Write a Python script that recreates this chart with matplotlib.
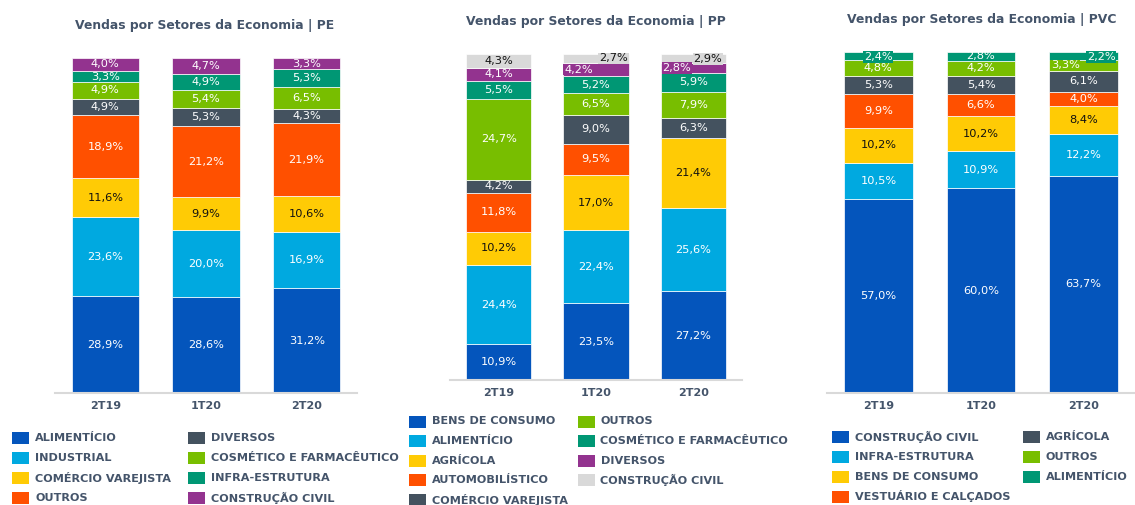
import matplotlib.pyplot as plt
from matplotlib.patches import Rectangle

# dados (% das vendas por setor)
periodos = ['2T19', '1T20', '2T20']

pe_setores = ['ALIMENTÍCIO', 'INDUSTRIAL', 'COMÉRCIO VAREJISTA', 'OUTROS',
              'DIVERSOS', 'COSMÉTICO E FARMACÊUTICO', 'INFRA-ESTRUTURA', 'CONSTRUÇÃO CIVIL']
pe_valores = [
    [28.9, 28.6, 31.2],
    [23.6, 20.0, 16.9],
    [11.6, 9.9, 10.6],
    [18.9, 21.2, 21.9],
    [4.9, 5.3, 4.3],
    [4.9, 5.4, 6.5],
    [3.3, 4.9, 5.3],
    [4.0, 4.7, 3.3],
]

pp_setores = ['BENS DE CONSUMO', 'ALIMENTÍCIO', 'AGRÍCOLA', 'AUTOMOBILÍSTICO', 'COMÉRCIO VAREJISTA',
              'OUTROS', 'COSMÉTICO E FARMACÊUTICO', 'DIVERSOS', 'CONSTRUÇÃO CIVIL']
pp_valores = [
    [10.9, 23.5, 27.2],
    [24.4, 22.4, 25.6],
    [10.2, 17.0, 21.4],
    [11.8, 9.5, 0.0],
    [4.2, 9.0, 6.3],
    [24.7, 6.5, 7.9],
    [5.5, 5.2, 5.9],
    [4.1, 4.2, 2.8],
    [4.3, 2.7, 2.9],
]

pvc_setores = ['CONSTRUÇÃO CIVIL', 'INFRA-ESTRUTURA', 'BENS DE CONSUMO', 'VESTUÁRIO E CALÇADOS',
               'AGRÍCOLA', 'OUTROS', 'ALIMENTÍCIO']
pvc_valores = [
    [57.0, 60.0, 63.7],
    [10.5, 10.9, 12.2],
    [10.2, 10.2, 8.4],
    [9.9, 6.6, 4.0],
    [5.3, 5.4, 6.1],
    [4.8, 4.2, 3.3],
    [2.4, 2.8, 2.2],
]

# cores
AZUL = '#0455BC'
CELESTE = '#00A9E0'
AMARELO = '#FFCB05'
LARANJA = '#FF5000'
CINZA_ESC = '#44525F'
VERDE = '#78BE00'
TURQUESA = '#009774'
ROXO = '#93338F'
CINZA_CLR = '#D9D9D9'
TEXTO = '#44546A'

pe_cores = [AZUL, CELESTE, AMARELO, LARANJA, CINZA_ESC, VERDE, TURQUESA, ROXO]
pp_cores = [AZUL, CELESTE, AMARELO, LARANJA, CINZA_ESC, VERDE, TURQUESA, ROXO, CINZA_CLR]
pvc_cores = [AZUL, CELESTE, AMARELO, LARANJA, CINZA_ESC, VERDE, TURQUESA]

# deslocamento dos rotulos pequenos: (setor, periodo) -> (dx em barras, dy em %)
pp_desloc = {(7, 1): (-0.18, 0), (8, 1): (0.18, 0), (7, 2): (-0.17, 0), (8, 2): (0.15, 0)}
pvc_desloc = {(6, 0): (0, -0.3), (5, 2): (-0.18, 0), (6, 2): (0.17, -0.3)}

W, H = 1135, 505
fig = plt.figure(figsize=(W / 100, H / 100), dpi=100)


def painel(rect, titulo, titulo_xy, setores, valores, cores, desloc, leg):
    x0, y0, x1, y1 = rect  # pixels
    ax = fig.add_axes([x0 / W, 1 - y1 / H, (x1 - x0) / W, (y1 - y0) / H])
    base = [0.0] * len(periodos)
    xs = list(range(len(periodos)))
    for i, (setor, vals) in enumerate(zip(setores, valores)):
        ax.bar(xs, vals, 0.67, bottom=base, color=cores[i], edgecolor='white', linewidth=0.5)
        for j, v in enumerate(vals):
            if v <= 0:
                continue
            cor_txt = '#111111' if cores[i] in (AMARELO, CINZA_CLR) else 'white'
            dx, dy = desloc.get((i, j), (0, 0))
            box = None
            if (i, j) in desloc:
                box = dict(facecolor=cores[i], edgecolor='none', pad=0.6)
            ax.text(j + dx, base[j] + v / 2 + dy, f'{v:.1f}%'.replace('.', ','),
                    ha='center', va='center', fontsize=8.2, color=cor_txt, bbox=box)
        base = [b + v for b, v in zip(base, vals)]
    ax.set_xlim(-0.5, len(periodos) - 0.5)
    ax.set_ylim(0, 100)
    ax.set_yticks([])
    ax.set_xticks(xs)
    ax.set_xticklabels(periodos, fontsize=8, fontweight='bold', color=TEXTO)
    ax.tick_params(axis='x', length=0, pad=6)
    for s in ['top', 'right', 'left']:
        ax.spines[s].set_visible(False)
    ax.spines['bottom'].set_color('#D9D9D9')
    ax.spines['bottom'].set_linewidth(1.5)
    fig.text(titulo_xy[0] / W, 1 - titulo_xy[1] / H, titulo, ha='center', va='center',
             fontsize=8.9, fontweight='bold', color=TEXTO)

    # legenda feita a mao
    lx, ly, lx2, dy, nlin = leg
    for k, setor in enumerate(setores):
        col, lin = divmod(k, nlin)
        xq = lx if col == 0 else lx2
        yc = ly + lin * dy
        fig.add_artist(Rectangle((xq / W, 1 - (yc + 6) / H), 17 / W, 12 / H,
                                 transform=fig.transFigure, facecolor=cores[k], edgecolor='none'))
        fig.text((xq + 23) / W, 1 - yc / H, setor, ha='left', va='center',
                 fontsize=8.1, fontweight='bold', color=TEXTO)


painel((55, 58, 357, 393), 'Vendas por Setores da Economia | PE', (205, 25),
       pe_setores, pe_valores, pe_cores, {}, (12, 438, 188, 20, 4))
painel((450, 54, 742, 380), 'Vendas por Setores da Economia | PP', (596, 22),
       pp_setores, pp_valores, pp_cores, pp_desloc, (409, 421.5, 577.5, 19.5, 5))
painel((827, 52, 1135, 393), 'Vendas por Setores da Economia | PVC', (982, 19),
       pvc_setores, pvc_valores, pvc_cores, pvc_desloc, (832, 436.5, 1022.5, 20, 4))

fig.savefig('out.png', dpi=100)
